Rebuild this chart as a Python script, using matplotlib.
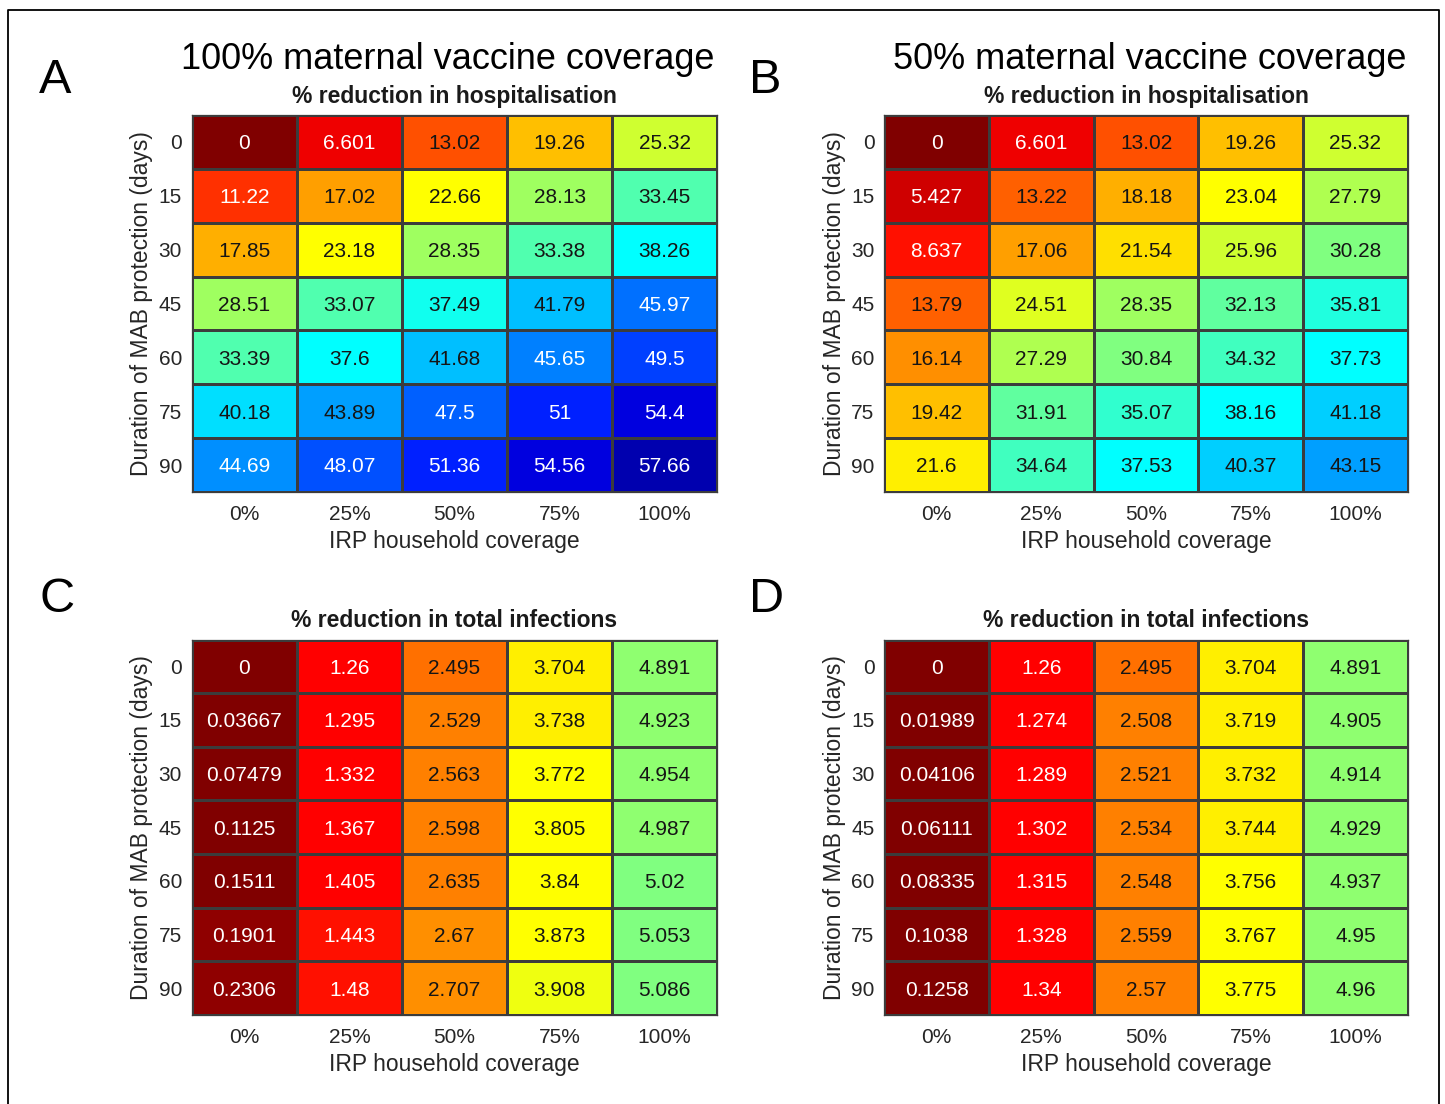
import numpy as np
import matplotlib
matplotlib.use("Agg")
import matplotlib.pyplot as plt
from matplotlib.colors import ListedColormap, Normalize
from matplotlib.lines import Line2D

plt.rcParams['font.family'] = ['Liberation Sans', 'DejaVu Sans']

# ---- data -------------------------------------------------------------
irp_coverage = ["0%", "25%", "50%", "75%", "100%"]
mab_days = ["0", "15", "30", "45", "60", "75", "90"]

hosp_mat100 = [
    [0, 6.601, 13.02, 19.26, 25.32],
    [11.22, 17.02, 22.66, 28.13, 33.45],
    [17.85, 23.18, 28.35, 33.38, 38.26],
    [28.51, 33.07, 37.49, 41.79, 45.97],
    [33.39, 37.6, 41.68, 45.65, 49.5],
    [40.18, 43.89, 47.5, 51, 54.4],
    [44.69, 48.07, 51.36, 54.56, 57.66],
]
hosp_mat50 = [
    [0, 6.601, 13.02, 19.26, 25.32],
    [5.427, 13.22, 18.18, 23.04, 27.79],
    [8.637, 17.06, 21.54, 25.96, 30.28],
    [13.79, 24.51, 28.35, 32.13, 35.81],
    [16.14, 27.29, 30.84, 34.32, 37.73],
    [19.42, 31.91, 35.07, 38.16, 41.18],
    [21.6, 34.64, 37.53, 40.37, 43.15],
]
inf_mat100 = [
    [0, 1.26, 2.495, 3.704, 4.891],
    [0.03667, 1.295, 2.529, 3.738, 4.923],
    [0.07479, 1.332, 2.563, 3.772, 4.954],
    [0.1125, 1.367, 2.598, 3.805, 4.987],
    [0.1511, 1.405, 2.635, 3.84, 5.02],
    [0.1901, 1.443, 2.67, 3.873, 5.053],
    [0.2306, 1.48, 2.707, 3.908, 5.086],
]
inf_mat50 = [
    [0, 1.26, 2.495, 3.704, 4.891],
    [0.01989, 1.274, 2.508, 3.719, 4.905],
    [0.04106, 1.289, 2.521, 3.732, 4.914],
    [0.06111, 1.302, 2.534, 3.744, 4.929],
    [0.08335, 1.315, 2.548, 3.756, 4.937],
    [0.1038, 1.328, 2.559, 3.767, 4.95],
    [0.1258, 1.34, 2.57, 3.775, 4.96],
]

hosp_limit = 60
inf_limit = 10


# ---- 64-level jet, flipped so that low values are dark red ------------
def jet64(n=64):
    m = int(np.ceil(n / 4))
    u = np.concatenate([np.arange(1, m + 1) / m, np.ones(m - 1), np.arange(m, 0, -1) / m])
    g = int(np.ceil(n / 8)) - (1 if n % 4 == 1 else 0) + np.arange(1, len(u) + 1)
    r = g + m
    b = g - m
    g = g[g <= n]
    r = r[r <= n]
    b = b[b >= 1]
    J = np.zeros((n, 3))
    J[r - 1, 0] = u[:len(r)]
    J[g - 1, 1] = u[:len(g)]
    J[b - 1, 2] = u[len(u) - len(b):]
    return J


cmap = ListedColormap(jet64()[::-1])

W, H = 1445, 1104
fig = plt.figure(figsize=(W / 100, H / 100), dpi=100)

GRID = '#3c3c3c'
TICK = '#262626'


def heat(rect, data, vmax, subtitle):
    ax = fig.add_axes(rect)
    z = np.asarray(data, dtype=float)
    norm = Normalize(0, vmax)
    ax.pcolormesh(np.arange(6) - 0.5, np.arange(8) - 0.5, z, cmap=cmap, norm=norm,
                  edgecolors=GRID, linewidth=0.9)
    ax.set_xlim(-0.5, 4.5)
    ax.set_ylim(6.5, -0.5)
    for i in range(z.shape[0]):
        for j in range(z.shape[1]):
            rgb = cmap(norm(z[i, j]))[:3]
            lum = 0.2989 * rgb[0] + 0.587 * rgb[1] + 0.114 * rgb[2]
            col = '#151515' if lum > 0.45 else 'white'
            ax.text(j, i + 0.035, f"{z[i, j]:.4g}", ha='center', va='center',
                    fontsize=15, color=col)
    ax.set_xticks(range(5))
    ax.set_xticklabels(irp_coverage)
    ax.set_yticks(range(7))
    ax.set_yticklabels(mab_days)
    ax.tick_params(axis='x', length=0, pad=9.5, labelsize=15, labelcolor=TICK)
    ax.tick_params(axis='y', length=0, pad=7, labelsize=15, labelcolor=TICK)
    for s in ax.spines.values():
        s.set_color(GRID)
        s.set_linewidth(0.9)
    ax.set_xlabel("IRP household coverage", fontsize=16.5, color=TICK)
    ax.xaxis.label.set_va('top')
    ax.xaxis.set_label_coords(0.5, -0.10)
    ax.set_ylabel("Duration of MAB protection (days)", fontsize=16.5, color=TICK)
    ax.yaxis.label.set_va('center')
    ax.yaxis.set_label_coords(-50.0 / (rect[2] * W), 0.5)
    ax.set_title(subtitle, fontsize=16.5, fontweight='bold', color='#1a1a1a', pad=9)
    return ax


top_rect_h = [1 - 492 / H, 377 / H]
bot_rect_h = [1 - 1015 / H, 375.5 / H]
heat([191.7 / W, top_rect_h[0], 525.6 / W, top_rect_h[1]], hosp_mat100, hosp_limit,
     "% reduction in hospitalisation")
heat([884.3 / W, top_rect_h[0], 523.4 / W, top_rect_h[1]], hosp_mat50, hosp_limit,
     "% reduction in hospitalisation")
heat([191.7 / W, bot_rect_h[0], 525.6 / W, bot_rect_h[1]], inf_mat100, inf_limit,
     "% reduction in total infections")
heat([884.3 / W, bot_rect_h[0], 523.4 / W, bot_rect_h[1]], inf_mat50, inf_limit,
     "% reduction in total infections")

# column headings
fig.text(448 / W, 1 - 69 / H, "100% maternal vaccine coverage", ha='center',
         va='baseline', fontsize=26, color='black')
fig.text(1150 / W, 1 - 69 / H, "50% maternal vaccine coverage", ha='center',
         va='baseline', fontsize=26, color='black')

# panel letters
for letter, x, y in [("A", 39, 92.7), ("B", 749, 92.7), ("C", 40, 612), ("D", 749, 612)]:
    fig.text(x / W, 1 - y / H, letter, ha='left', va='baseline', fontsize=35, color='black')

# frame around the figure (open at the bottom)
fx0, fx1, fy1 = 7.5 / W, 1439 / W, 1 - 9.5 / H
fig.add_artist(Line2D([fx0, fx0, fx1, fx1], [0, fy1, fy1, 0], transform=fig.transFigure,
                      color='black', linewidth=1.3))

fig.savefig("out.png", dpi=100, facecolor='white')
